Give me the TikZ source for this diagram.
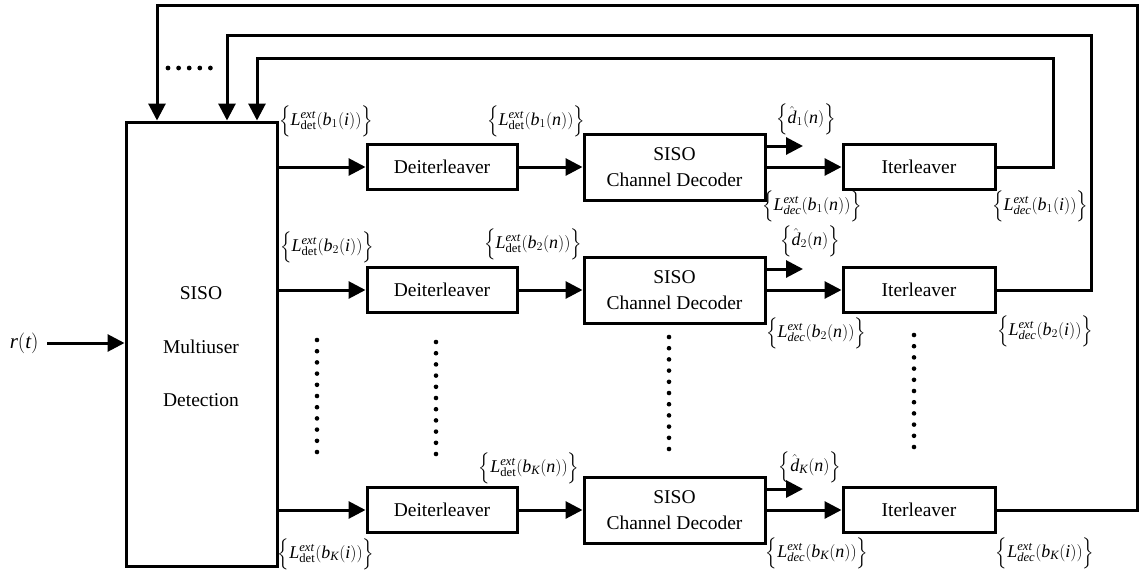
\documentclass[tikz,border=0pt]{standalone}
\usepackage{amsmath}
\usepackage{fontspec}
\setmainfont{Liberation Serif}
\usetikzlibrary{arrows.meta}
\newcommand{\mi}[1]{\textit{#1}}
\newcommand{\Lext}[3]{$\Bigl\{\mi{L}^{\mi{ext}}_{#1}(\mi{b}_{#2}(\mi{#3}))\Bigr\}$}
\newcommand{\Dhat}[1]{$\Bigl\{\hat{\mi{d}}_{#1}(\mi{n})\Bigr\}$}
\begin{document}
\begin{tikzpicture}[x=1pt,y=-1pt,line width=3pt,
  txt/.style={font=\fontsize{19.5}{26}\selectfont},
  blk/.style={draw,line width=3pt,inner sep=0pt,align=center,txt},
  deint/.style={blk,minimum width=150pt,minimum height=45pt},
  dec/.style={blk,minimum width=181pt,minimum height=66pt},
  intl/.style={blk,minimum width=152pt,minimum height=45pt},
  lab/.style={inner sep=0pt,font=\fontsize{18}{22}\selectfont},
  arr/.style={-{Triangle[length=17pt,width=17pt]}},
  dotc/.style={fill=black}]
\useasboundingbox (0,0) rectangle (1140,574);

% multiuser detector
\node[draw,line width=3pt,minimum width=151pt,minimum height=444pt,inner sep=0pt] (mud) at (201.5,344) {};
\node[inner sep=0pt,txt] (m1) at (201,293) {SISO};
\node[inner sep=0pt,txt] (m2) at (201,347) {Multiuser};
\node[inner sep=0pt,txt] (m3) at (201,400) {Detection};

% input
\node[inner sep=0pt,font=\fontsize{21}{24}\selectfont,anchor=east] (rt) at (40,343) {$\mi{r}(\mi{t})$};
\draw[arr] ([xshift=7pt]rt.east) -- (rt.east -| mud.west);

% rows
\foreach \r/\y in {1/167,2/290,K/510}{
  \node[deint] (d\r) at (442,\y) {Deiterleaver};
  \node[dec] (c\r) at (674.5,\y) {SISO\\Channel Decoder};
  \node[intl] (i\r) at (919,\y) {Iterleaver};
  \coordinate (h\r) at (803,\y-21);
  \draw[arr] (d\r.west -| mud.east) -- (d\r.west);
  \draw[arr] (d\r.east) -- (c\r.west);
  \draw[arr] (c\r.east) -- (i\r.west);
  \draw[arr] (h\r -| c\r.east) -- (h\r);
}

% feedback
\coordinate (f1) at (1053,58);  \coordinate (t1) at (257,58);
\coordinate (f2) at (1091,35);  \coordinate (t2) at (227,35);
\coordinate (fK) at (1137,5);   \coordinate (tK) at (157,5);
\foreach \r in {1,2,K}{
  \draw[arr] (i\r.east) -| (f\r) -- (t\r) -- (t\r |- mud.north);
}

% labels row 1
\node[lab] (l11) at (326,121) {\Lext{\textup{det}}{1}{i}};
\node[lab] (l12) at (536,121) {\Lext{\textup{det}}{1}{n}};
\node[lab] (l13) at (806,119) {\Dhat{1}};
\node[lab] (l14) at (812,206) {\Lext{\mi{dec}}{1}{n}};
\node[lab] (l15) at (1040,206) {\Lext{\mi{dec}}{1}{i}};
% labels row 2
\node[lab] (l21) at (327,247) {\Lext{\textup{det}}{2}{i}};
\node[lab] (l22) at (533,244) {\Lext{\textup{det}}{2}{n}};
\node[lab] (l23) at (810,241) {\Dhat{2}};
\node[lab] (l24) at (816,333) {\Lext{\mi{dec}}{2}{n}};
\node[lab] (l25) at (1045,331) {\Lext{\mi{dec}}{2}{i}};
% labels row K
\node[lab] (lK1) at (326,554) {\Lext{\textup{det}}{\mi{K}}{i}};
\node[lab] (lK2) at (529,468) {\Lext{\textup{det}}{\mi{K}}{n}};
\node[lab] (lK3) at (810,467) {\Dhat{\mi{K}}};
\node[lab] (lK4) at (817,553) {\Lext{\mi{dec}}{\mi{K}}{n}};
\node[lab] (lK5) at (1045,553) {\Lext{\mi{dec}}{\mi{K}}{i}};

% vertical dots
\foreach \x/\ys in {317/340,436/342,669/337,914/335}{
  \foreach \k in {0,...,10}{
    \fill[dotc] (\x,\ys+11.2*\k) circle (2.3pt);
  }
}
% horizontal dots
\foreach \k in {0,...,4}{
  \fill[dotc] (168+10.6*\k,68) circle (2.4pt);
}
\end{tikzpicture}
\end{document}
